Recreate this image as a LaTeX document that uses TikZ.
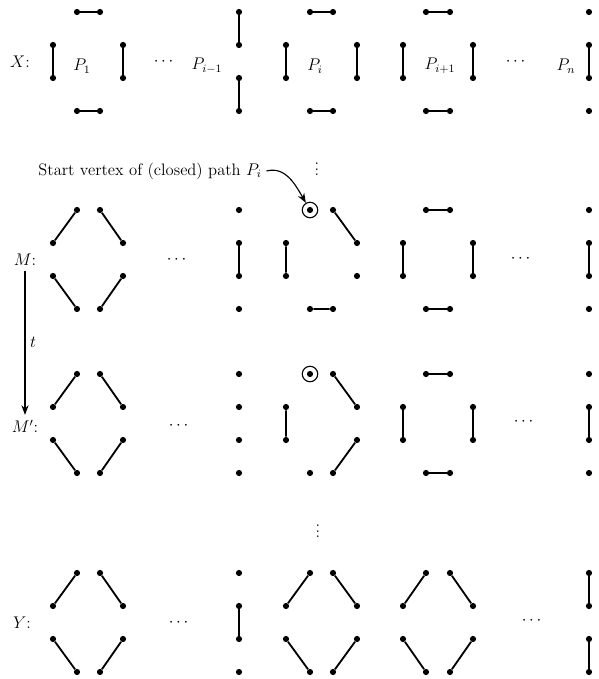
\documentclass[tikz,border=0pt]{standalone}
\usepackage{amsmath,amssymb}
\usetikzlibrary{arrows.meta}
\begin{document}
\begin{tikzpicture}[x=0.025cm,y=-0.025cm,
    vtx/.style={circle,fill=black,inner sep=0pt,minimum size=4.4pt},
    edge/.style={line width=1.3pt},
    lbl/.style={font=\fontsize{11.8}{14}\selectfont},
    startmark/.style={circle,draw,thick,minimum size=11pt,inner sep=0pt},
    arr/.style={-{Stealth[length=2.4mm]},thick}]
  \useasboundingbox (0,0) rectangle (599,679);
  % vertices: octagon blocks P_1, P_i, P_{i+1} and columns P_{i-1}, P_n
  \foreach \r/\y in {X/12,M/210,Mp/374,Y/573}{
    \foreach \b/\l/\p/\q/\s in {a/53/77/100/123,i/286/310/333/357,j/403/426/450/473}{
      \node[vtx] (\r-\b-tl) at (\p,\y) {};
      \node[vtx] (\r-\b-tr) at (\q,\y) {};
      \node[vtx] (\r-\b-lt) at (\l,\y+33) {};
      \node[vtx] (\r-\b-rt) at (\s,\y+33) {};
      \node[vtx] (\r-\b-lb) at (\l,\y+66) {};
      \node[vtx] (\r-\b-rb) at (\s,\y+66) {};
      \node[vtx] (\r-\b-bl) at (\p,\y+99) {};
      \node[vtx] (\r-\b-br) at (\q,\y+99) {};
    }
    \foreach \b/\xc in {h/239,n/589}
      \foreach \k/\dy in {1/0,2/33,3/66,4/99}
        \node[vtx] (\r-\b-\k) at (\xc,\y+\dy) {};
  }
  % matchings
  \foreach \r/\b in {X/a,X/i,X/j,M/j,Mp/j}
    \draw[edge] (\r-\b-tl)--(\r-\b-tr) (\r-\b-lt)--(\r-\b-lb)
      (\r-\b-rt)--(\r-\b-rb) (\r-\b-bl)--(\r-\b-br);
  \foreach \r/\b in {M/a,Mp/a,Y/a,Y/i,Y/j}
    \draw[edge] (\r-\b-tl)--(\r-\b-lt) (\r-\b-tr)--(\r-\b-rt)
      (\r-\b-lb)--(\r-\b-bl) (\r-\b-rb)--(\r-\b-br);
  \draw[edge] (M-i-tr)--(M-i-rt) (M-i-lt)--(M-i-lb) (M-i-bl)--(M-i-br);
  \draw[edge] (Mp-i-tr)--(Mp-i-rt) (Mp-i-lt)--(Mp-i-lb) (Mp-i-rb)--(Mp-i-br);
  \draw[edge] (X-h-1)--(X-h-2) (X-h-3)--(X-h-4) (M-h-2)--(M-h-3) (Y-h-2)--(Y-h-3);
  \draw[edge] (X-n-2)--(X-n-3) (M-n-2)--(M-n-3) (Mp-n-2)--(Mp-n-3);
  \draw[edge] (Y-n-1)--(Y-n-2) (Y-n-3)--(Y-n-4);
  % labels
  \node[lbl] (labX) at (20,62) {$X$:};
  \node[lbl] (labM) at (25,260) {$M$:};
  \node[lbl] (labMp) at (25,426) {$M'$:};
  \node[lbl] (labY) at (22,623) {$Y$:};
  \node[lbl] (p1) at (82,66) {$P_1$};
  \node[lbl] (pim) at (207,66) {$P_{i-1}$};
  \node[lbl] (pi) at (315,66) {$P_i$};
  \node[lbl] (pip) at (440,66) {$P_{i+1}$};
  \node[lbl] (pn) at (566,66) {$P_n$};
  \node[lbl] (dotsX) at (165,62) {$\cdots$};
  \node[lbl] (dotsM) at (178,260) {$\cdots$};
  \node[lbl] (dotsMp) at (180,426) {$\cdots$};
  \node[lbl] (dotsY) at (180,623) {$\cdots$};
  \node[lbl] (dotsXr) at (517,62) {$\cdots$};
  \node[lbl] (dotsMr) at (522,259) {$\cdots$};
  \node[lbl] (dotsMpr) at (525,422) {$\cdots$};
  \node[lbl] (dotsYr) at (533,621) {$\cdots$};
  \node[lbl] (vdotsA) at (317,165) {$\vdots$};
  \node[lbl] (vdotsB) at (318,527) {$\vdots$};
  % start vertex
  \node[startmark] (startM) at (M-i-tl) {};
  \node[startmark] (startMp) at (Mp-i-tl) {};
  \node[lbl] (starttxt) at (150,171) {Start vertex of (closed) path $P_i$};
  \draw[arr] (starttxt.east) to[out=15,in=120] (startM);
  \draw[arr] (labM) -- (labMp) node[midway,right,lbl] (steps) {$t$};
\end{tikzpicture}
\end{document}
